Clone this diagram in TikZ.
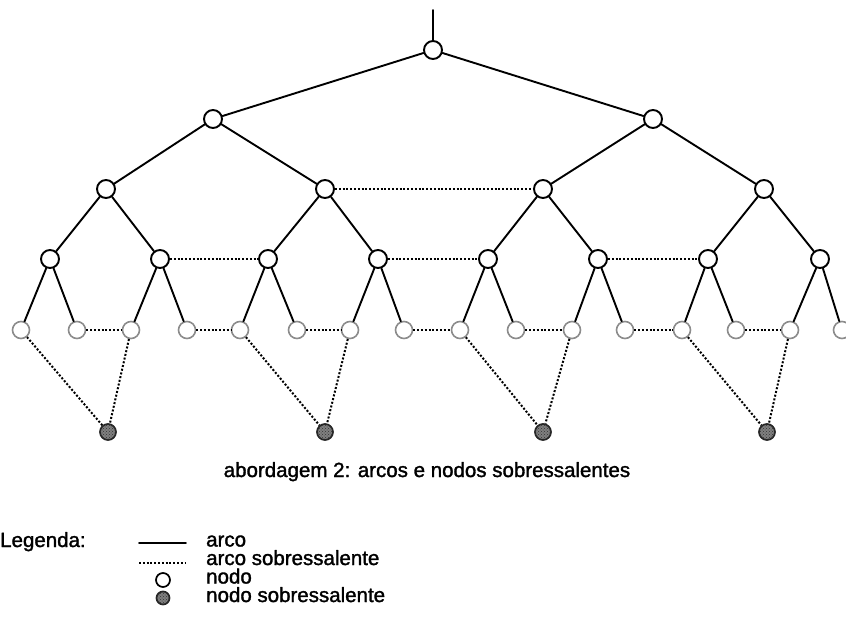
\documentclass[tikz,border=0pt]{standalone}
\usepackage{fontspec}
\setmainfont[FakeBold=1.5]{Liberation Sans}
\usetikzlibrary{patterns}

\begin{document}
\begin{tikzpicture}[x=1pt,y=-1pt,line join=round,line cap=round,font=\fontsize{20.5}{18.5}\selectfont,
		nodo/.style={circle,draw,line width=1.9pt,fill=white,minimum size=18pt,inner sep=0pt},
		folha/.style={nodo,draw=black!45,line width=1.6pt,minimum size=17pt},
		reserva/.style={circle,draw=black!85,line width=1.7pt,fill=black!50,
			postaction={pattern=crosshatch dots,pattern color=black!80},minimum size=16pt,inner sep=0pt},
		arco/.style={line width=1.9pt},
		sobra/.style={line width=2pt,line cap=butt,dash pattern=on 2pt off 1.8pt},
		texto/.style={anchor=base west,inner sep=0pt}]
	\useasboundingbox (0,0) rectangle (846,619);
	% arvore: raiz, niveis 1 a 3 e folhas
	\node[nodo] (n1) at (433,50) {};
	\coordinate (topo) at (433,10);
	\foreach \x [count=\i] in {213,653} \node[nodo] (m\i) at (\x,119) {};
	\foreach \x [count=\i] in {106,325,543,764} \node[nodo] (p\i) at (\x,189) {};
	\foreach \x [count=\i] in {50,160,268,378,488,598,708,820} \node[nodo] (q\i) at (\x,259) {};
	\foreach \x [count=\i] in {21,77,131,187,240,297,350,404,460,516,572,625,682,736,790,842}
		\node[folha] (f\i) at (\x,330) {};
	\foreach \x [count=\i] in {108,325,543,767} \node[reserva] (s\i) at (\x,432) {};
	% arcos
	\draw[arco] (topo)--(n1);
	\foreach \i in {1,2} \draw[arco] (n1)--(m\i);
	\foreach \i in {1,...,4}{
		\pgfmathtruncatemacro\k{(\i+1)/2}
		\draw[arco] (m\k)--(p\i);
	}
	\foreach \i in {1,...,8}{
		\pgfmathtruncatemacro\k{(\i+1)/2}
		\draw[arco] (p\k)--(q\i);
	}
	\foreach \i in {1,...,16}{
		\pgfmathtruncatemacro\k{(\i+1)/2}
		\draw[arco] (q\k)--(f\i);
	}
	% arcos sobressalentes
	\draw[sobra] (p2)--(p3);
	\foreach \a/\b in {2/3,4/5,6/7} \draw[sobra] (q\a)--(q\b);
	\foreach \a in {2,4,...,14}{
		\pgfmathtruncatemacro\b{\a+1}
		\draw[sobra] (f\a)--(f\b);
	}
	\foreach \i in {1,...,4}{
		\pgfmathtruncatemacro\a{4*\i-3}
		\pgfmathtruncatemacro\b{4*\i-1}
		\draw[sobra] (f\a)--(s\i) (f\b)--(s\i);
	}
	\node[anchor=base,inner sep=0pt] (titulo) at (427,477) {abordagem 2: arcos e nodos sobressalentes};
	% legenda
	\node[texto] (leg) at (0,547) {Legenda:};
	\coordinate (l1a) at (139,543); \coordinate (l1b) at (186,543);
	\coordinate (l2a) at (139,563); \coordinate (l2b) at (186,563);
	\draw[arco] (l1a)--(l1b);
	\draw[sobra] (l2a)--(l2b);
	\node[nodo,line width=1.7pt,minimum size=14pt] (lnodo) at (163,580) {};
	\node[reserva,minimum size=13pt] (lres) at (163,598) {};
	\node[texto,align=left] (tleg) at (206,602) {arco\\arco sobressalente\\nodo\\nodo sobressalente};
\end{tikzpicture}
\end{document}
